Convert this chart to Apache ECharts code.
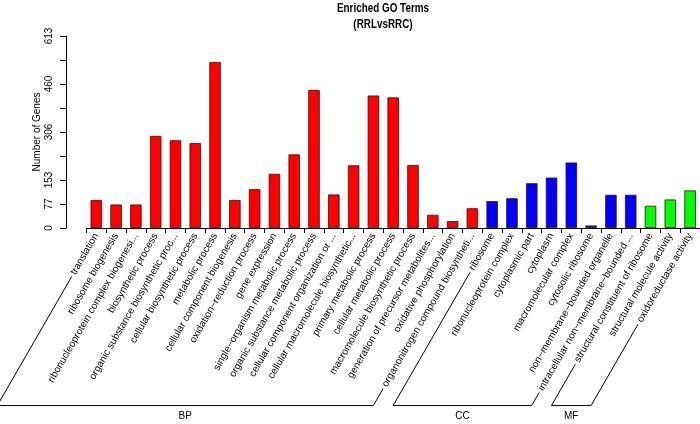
<!DOCTYPE html>
<html><head><meta charset="utf-8">
<script src="https://cdn.jsdelivr.net/npm/echarts@6/dist/echarts.min.js"></script>
<style>html,body{margin:0;padding:0;background:#fff}#c{width:700px;height:424px}</style>
</head><body><div id="c"></div>
<script>
// ---- data ----
const categories = [
  'translation', 'ribosome biogenesis', 'ribonucleoprotein complex biogenesi...',
  'biosynthetic process', 'organic substance biosynthetic proc...', 'cellular biosynthetic process',
  'metabolic process', 'cellular component biogenesis', 'oxidation\u2212reduction process',
  'gene expression', 'single\u2212organism metabolic process', 'organic substance metabolic process',
  'cellular component organization or ...', 'cellular macromolecule biosynthetic...',
  'primary metabolic process', 'cellular metabolic process', 'macromolecule biosynthetic process',
  'generation of precursor metabolites...', 'oxidative phosphorylation',
  'organonitrogen compound biosyntheti...',
  'ribosome', 'ribonucleoprotein complex', 'cytoplasmic part', 'cytoplasm',
  'macromolecular complex', 'cytosolic ribosome', 'non\u2212membrane\u2212bounded organelle',
  'intracellular non\u2212membrane\u2212bounded ...',
  'structural constituent of ribosome', 'structural molecule activity', 'oxidoreductase activity'
];
const geneCounts = [
  89, 75, 75, 294, 280, 271, 530, 89, 124, 173, 235, 441, 107, 200, 423, 417, 201, 42, 22, 63,
  86, 95, 143, 161, 209, 8, 106, 106,
  71, 91, 120
];
const groupNames = ['BP', 'CC', 'MF'];
const groupSizes = [20, 8, 3];
const groupColors = ['#FF0000', '#0000FF', '#00FF00'];
const yTickLabels = ['0', '77', '153', '', '306', '', '460', '', '613'];
const yMax = 613;
const titleLines = ['Enriched GO Terms', '(RRLvsRRC)'];
const yAxisTitle = 'Number of Genes';

// ---- build ----
const FONT_FAMILY = '"Liberation Sans", Arial, Helvetica, sans-serif';
const LABEL_SIZE = 10;
const ROT = 60;
const LABEL_MARGIN = 6;

const groupOf = [];
groupSizes.forEach((n, g) => { for (let k = 0; k < n; k++) groupOf.push(g); });

const chart = echarts.init(document.getElementById('c'), null, { renderer: 'canvas' });
const option = {
  animation: false,
  backgroundColor: '#ffffff',
  grid: { left: 86.4, right: 0, top: 36, bottom: 196, containLabel: false, outerBoundsMode: 'none' },
  xAxis: {
    type: 'category',
    data: categories,
    boundaryGap: true,
    axisLine: { show: true, lineStyle: { color: '#000', width: 1 } },
    axisTick: { show: true, length: 5, lineStyle: { color: '#000' } },
    axisLabel: {
      interval: 0, rotate: ROT, margin: LABEL_MARGIN, color: '#000',
      fontSize: LABEL_SIZE, fontFamily: FONT_FAMILY, hideOverlap: false
    },
    splitLine: { show: false }
  },
  yAxis: {
    type: 'value',
    min: 0, max: yMax, interval: yMax / 8,
    offset: 20.4,
    name: yAxisTitle, nameLocation: 'middle', nameRotate: 90, nameGap: 24,
    nameMoveOverlap: false,
    nameTextStyle: { color: '#000', fontSize: 10, fontFamily: FONT_FAMILY },
    axisLine: { show: true, lineStyle: { color: '#000', width: 1 } },
    axisTick: { show: true, length: 6, lineStyle: { color: '#000' } },
    axisLabel: {
      rotate: 90, margin: 12, color: '#000', fontSize: LABEL_SIZE, fontFamily: FONT_FAMILY,
      showMinLabel: true, showMaxLabel: true,
      formatter: (v) => yTickLabels[Math.round(v / (yMax / 8))] || ''
    },
    splitLine: { show: false }
  },
  series: [{
    type: 'bar',
    barWidth: '58%',
    data: geneCounts.map((v, i) => ({
      value: v,
      itemStyle: { color: groupColors[groupOf[i]], borderColor: '#3a1010', borderWidth: 0.8 }
    }))
  }]
};
chart.setOption(option);

// ---- group brackets, derived from the axis positions and label widths ----
const ctx = document.createElement('canvas').getContext('2d');
ctx.font = LABEL_SIZE + 'px ' + FONT_FAMILY;
const a = ROT * Math.PI / 180, ca = Math.cos(a), sa = Math.sin(a);
const xs = categories.map((c, i) => chart.convertToPixel({ gridIndex: 0 }, [i, 0])[0]);
const axisY = chart.convertToPixel({ gridIndex: 0 }, [0, 0])[1];
const anchorY = axisY + LABEL_MARGIN;
const GAP = 3;
const starts = categories.map((c, i) => {
  const w = ctx.measureText(c).width + GAP;
  return [xs[i] - w * ca, anchorY + w * sa];
});
const bottomY = Math.max(...starts.map(p => p[1])) + 13;
const atBottom = (i) => [xs[i] - (bottomY - anchorY) / Math.tan(a), bottomY];
const graphics = [];
let first = 0;
groupSizes.forEach((n, g) => {
  const last = first + n - 1;
  const pts = [starts[first], atBottom(first), atBottom(last), starts[last]];
  graphics.push({ type: 'polyline', shape: { points: pts }, style: { stroke: '#000', lineWidth: 1, fill: null }, silent: true });
  graphics.push({
    type: 'text', x: (pts[1][0] + pts[2][0]) / 2, y: bottomY + 6,
    style: { text: groupNames[g], fill: '#000', font: LABEL_SIZE + 'px ' + FONT_FAMILY, align: 'center', verticalAlign: 'top' }
  });
  first = last + 1;
});
const step = xs[1] - xs[0];
const gridRight = xs[xs.length - 1] + step / 2;
const yAxisX = xs[0] - step / 2 - 20.4;
graphics.push({
  type: 'text', x: (yAxisX + gridRight) / 2, y: 1, scaleX: 0.76, scaleY: 1,
  style: { text: titleLines.join('\n'), fill: '#000', font: 'bold 13px ' + FONT_FAMILY, align: 'center', verticalAlign: 'top', lineHeight: 15.5 }
});
chart.setOption({ graphic: graphics });
</script></body></html>
